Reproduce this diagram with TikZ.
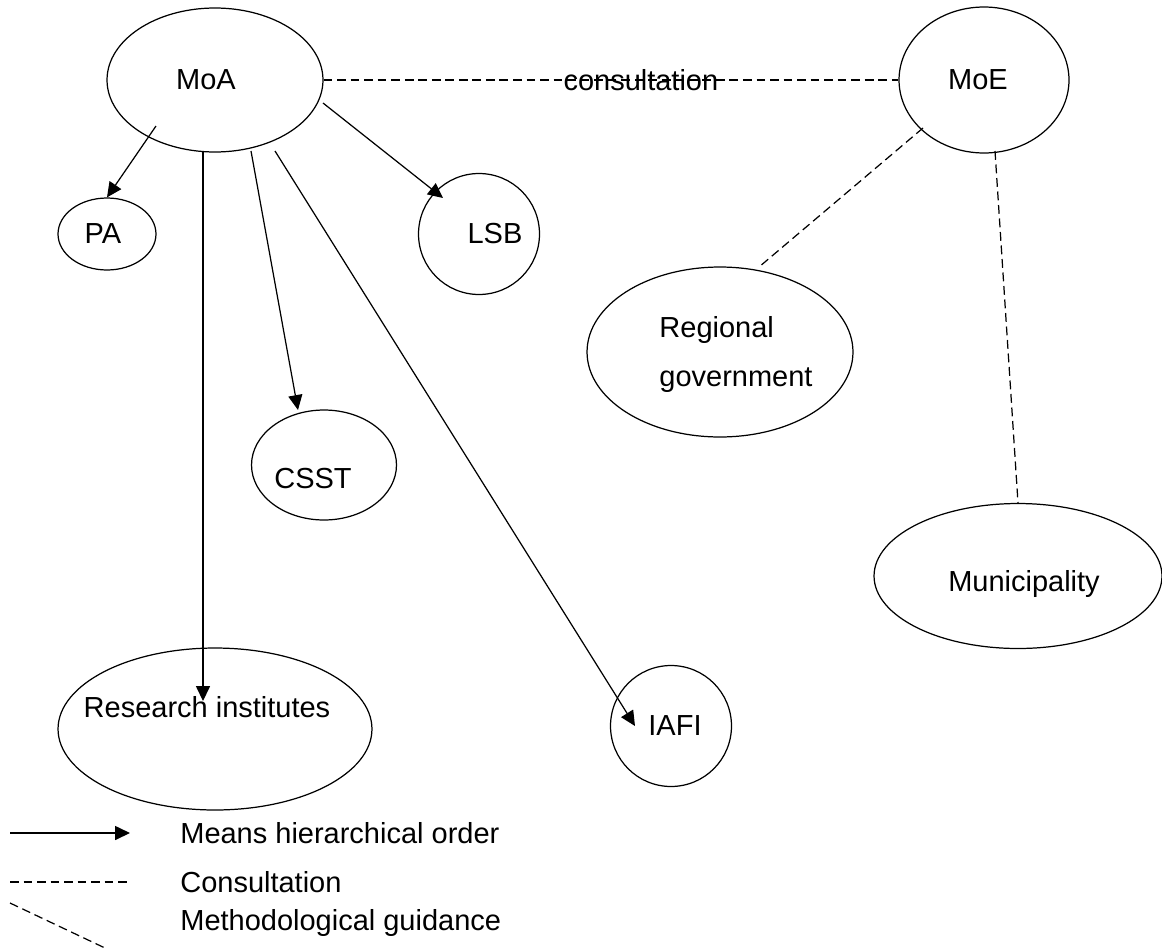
\documentclass[tikz,border=0pt]{standalone}
\usepackage{fontspec}
\setmainfont{Liberation Sans}
\usepackage{tikz}
\usetikzlibrary{positioning,shapes,arrows.meta,calc}
\tikzstyle{org} = [ellipse, draw, line width=0.7pt, inner sep=0pt, %
   text centered]
\tikzstyle{line} = [draw, line width=0.7pt, -{Triangle[length=8.5pt,width=8pt]}]
\tikzstyle{consult} = [draw, line width=0.7pt, dash pattern=on 5pt off 2.7pt]
\tikzstyle{key} = [anchor=west, inner sep=0pt]
% text of zero width, so that it does not stretch the ellipse
\newcommand{\midtext}[2][0pt]{\makebox[0pt]{\hspace*{2\dimexpr#1\relax}#2}}

\begin{document}
\begin{tikzpicture}[x=0.02cm, y=-0.02cm, font=\fontsize{16.5}{28}\selectfont]
   \useasboundingbox (0,0) rectangle (1162,950);

% Ministry of agriculture %%%%%%%%%%%%%%%%%%%%%%%%%%%%%%%%%%%%%%%%%%%%%
   \node[org, minimum width=4.32cm, minimum height=2.88cm] (MoA) at (215,80) {%
      \midtext[-0.18cm]{MoA}};

   \node[org, minimum width=1.96cm, minimum height=1.44cm] (PA) at (107,234) {%
      \midtext[-0.08cm]{PA}};

   \node[org, minimum width=2.42cm, minimum height=2.42cm] (LSB) at (479,234) {%
      \midtext[0.32cm]{LSB}};

   \node[org, minimum width=2.9cm, minimum height=2.2cm] (CSST) at (324,465) {%
      \midtext[-0.22cm]{\raisebox{-0.47cm}[0pt][0pt]{CSST}}};

   \node[org, minimum width=6.28cm, minimum height=3.24cm] (Research) at (215,729) {%
      \midtext[-0.16cm]{\raisebox{0.23cm}[0pt][0pt]{Research institutes}}};

   \node[org, minimum width=2.42cm, minimum height=2.42cm] (IAFI) at (671,726) {%
      \midtext[0.08cm]{IAFI}};

% Ministry of economy %%%%%%%%%%%%%%%%%%%%%%%%%%%%%%%%%%%%%%%%%%%%%%%%%
   \node[org, minimum width=3.4cm, minimum height=2.92cm] (MoE) at (984,80) {%
      \midtext[-0.12cm]{MoE}};

   \node[org, minimum width=5.32cm, minimum height=3.4cm] (Regional) at (720,352) {%
      \midtext[0.32cm]{\begin{tabular}{@{}l@{}}Regional\\government\end{tabular}}};

   \node[org, minimum width=5.76cm, minimum height=2.9cm] (Municipality) at (1018,576) {%
      \midtext[0.12cm]{\raisebox{-0.31cm}[0pt][0pt]{Municipality}}};

% Legend %%%%%%%%%%%%%%%%%%%%%%%%%%%%%%%%%%%%%%%%%%%%%%%%%%%%%%%%%%%%%%
   \coordinate (keyA1) at (10,833);
   \coordinate (keyA2) at (130,833);
   \coordinate (keyB1) at (10,882);
   \coordinate (keyB2) at (130,882);
   \coordinate (keyC1) at (10,903);
   \coordinate (keyC2) at (105,948);

   \node[key] (keyAtext) at (180,833) {Means hierarchical order};
   \node[key] (keyBtext) at (180,882) {Consultation};
   \node[key] (keyCtext) at (180,923) {Methodological guidance};

   % Draw edges
   % Hierarchical order
   \path [line] ($(MoA.center)+(-59,46)$) -- (PA.north);
   \path [line] ($(MoA.center)+(108,23)$) -- ($(LSB.center)+(-36,-36)$);
   \path [line] ($(MoA.center)+(36,71)$) -- ($(CSST.center)+(-26,-55)$);
   \path [line] ($(MoA.center)+(60,71)$) -- ($(IAFI.center)+(-36,0)$);
   \path [line] ($(MoA.center)+(-12,72)$) -- ($(Research.center)+(-12,-28)$);

   % Consultation
   \path [consult] (MoA.east) -- node[pos=0.552] (consultlbl) {consultation} (MoE.west);

   % Guidance
   \path [consult] ($(MoE.center)+(-61,48)$) -- ($(Regional.center)+(39,-85)$);
   \path [consult] ($(MoE.center)+(11,71)$) -- (Municipality.north);

   % Legend samples
   \path [line] (keyA1) -- (keyA2);
   \path [consult] (keyB1) -- (keyB2);
   \path [consult] (keyC1) -- (keyC2);

\end{tikzpicture}
\end{document}
